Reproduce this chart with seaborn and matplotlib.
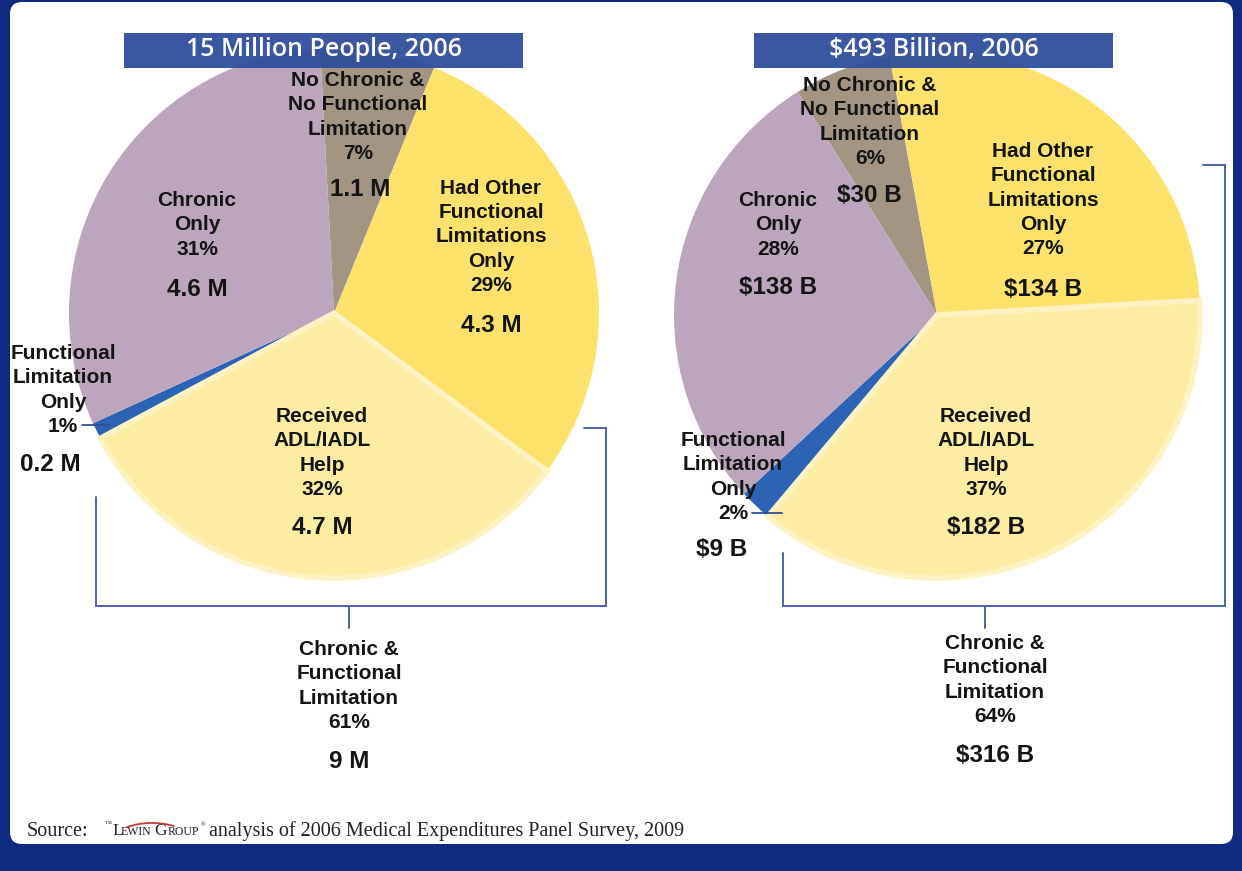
import matplotlib
matplotlib.use("Agg")
import matplotlib.pyplot as plt
import matplotlib.patches as mpatches
import seaborn as sns

# =====================================================
# Data
# =====================================================

segments = ["No Chronic & No Functional Limitation", "Had Other Functional Limitations Only",
            "Received ADL/IADL Help", "Functional Limitation Only", "Chronic Only"]

people_pct = [7, 29, 32, 1, 31]
people_val = ["1.1 M", "4.3 M", "4.7 M", "0.2 M", "4.6 M"]

spend_pct = [6, 27, 37, 2, 28]
spend_val = ["$30 B", "$134 B", "$182 B", "$9 B", "$138 B"]

titles = ["15 Million People, 2006", "$493 Billion, 2006"]
combined_pct = [61, 64]
combined_val = ["9 M", "$316 B"]

label_names = ["No Chronic &\nNo Functional\nLimitation", "Had Other\nFunctional\nLimitations\nOnly",
               "Received\nADL/IADL\nHelp", "Functional\nLimitation\nOnly", "Chronic\nOnly"]

slice_colors = ["#A29584", "#FCE26B", "#F6D957", "#2C63B4", "#BCA6BE"]
adl_light = "#FCEDA3"
adl_rim = "#FDF2C2"
navy = "#0F2A80"
title_blue = "#2F4E9C"
bracket_blue = "#4D62A8"

W, H = 1242, 871


def py(y):
    return H - y


# =====================================================
# Figure
# =====================================================

sns.set_theme(style="white")
plt.rcParams["font.family"] = ["Liberation Sans", "DejaVu Sans"]

fig = plt.figure(figsize=(W / 100, H / 100), dpi=100)
fig.patch.set_facecolor(navy)
ax = fig.add_axes([0, 0, 1, 1])
ax.set_facecolor("none")

# white panel inside the navy frame
panel = mpatches.FancyBboxPatch((16, py(838)), 1211, 830,
                                boxstyle="round,pad=6,rounding_size=12",
                                facecolor="white", edgecolor="none", zorder=0)
ax.add_patch(panel)

charts = [
    dict(pct=people_pct, val=people_val, center=(334, 313), radius=265, start=93, explode=0.05,
         text_pos=[(358, 117), (491, 237), (322, 453), (63, 390), (197, 225)],
         val_pos=[(360, 190), (491, 325), (322, 528), (50, 465), (197, 290)],
         title_box=(124, 33, 399, 35), leader=((82, 425), (110, 425)),
         bracket=dict(left=96, left_top=497, right=606, right_top=428, base=606, tick_x=349),
         combo_pos=(349, 686), combo_val_pos=(349, 762)),
    dict(pct=spend_pct, val=spend_val, center=(937, 315), radius=263, start=122, explode=0.05,
         text_pos=[(870, 122), (1043, 200), (986, 453), (733, 477), (778, 225)],
         val_pos=[(869, 195), (1043, 289), (986, 528), (722, 550), (778, 288)],
         title_box=(754, 33, 359, 35), leader=((752, 513), (782, 513)),
         bracket=dict(left=783, left_top=553, right=1225, right_top=165, base=606, tick_x=985),
         combo_pos=(995, 680), combo_val_pos=(995, 755)),
]

for i, ch in enumerate(charts):
    cx, cy = ch["center"]

    # base pie
    ax.pie(ch["pct"], colors=slice_colors, startangle=ch["start"], counterclock=False,
           center=(cx, py(cy)), radius=ch["radius"], frame=True,
           wedgeprops=dict(linewidth=0))

    # exploded ADL slice on top
    explode = [0, 0, ch["explode"], 0, 0]
    wedges, _ = ax.pie(ch["pct"], colors=slice_colors, startangle=ch["start"], counterclock=False,
                       center=(cx, py(cy)), radius=ch["radius"], explode=explode, frame=True,
                       wedgeprops=dict(linewidth=0))
    for j, w in enumerate(wedges):
        if j == 2:
            w.set_facecolor(adl_light)
            w.set_edgecolor(adl_rim)
            w.set_linewidth(4)
            w.set_zorder(3)
        else:
            w.set_visible(False)

    # slice labels
    for j in range(len(segments)):
        tx, ty = ch["text_pos"][j]
        ax.text(tx, py(ty), f"{label_names[j]}\n{ch['pct'][j]}%", ha="center", va="center",
                fontsize=15, fontweight="bold", color="#141414", linespacing=1.35, zorder=6)
        vx, vy = ch["val_pos"][j]
        ax.text(vx, py(vy), ch["val"][j], ha="center", va="center",
                fontsize=17.5, fontweight="bold", color="#141414", zorder=6)

    # leader line for the small slice
    (x0, y0), (x1, y1) = ch["leader"]
    ax.plot([x0, x1], [py(y0), py(y1)], color=title_blue, lw=1.3, zorder=6)

    # title box
    bx, by, bw, bh = ch["title_box"]
    ax.add_patch(mpatches.Rectangle((bx, py(by + bh)), bw, bh, facecolor=title_blue,
                                    edgecolor="none", alpha=0.95, zorder=7))
    ax.text(bx + bw / 2, py(by + bh / 2 - 1), titles[i], ha="center", va="center",
            fontsize=18, fontweight="semibold", color="white",
            family=["Open Sans", "DejaVu Sans"], zorder=8)

    # bracket for chronic & functional limitation
    b = ch["bracket"]
    ax.plot([b["left"], b["left"], b["right"], b["right"], b["right"] - 22],
            [py(b["left_top"]), py(b["base"]), py(b["base"]), py(b["right_top"]), py(b["right_top"])],
            color=bracket_blue, lw=1.4, zorder=5, solid_joinstyle="miter")
    ax.plot([b["tick_x"], b["tick_x"]], [py(b["base"]), py(b["base"] + 22)],
            color=bracket_blue, lw=1.4, zorder=5)

    px, pyy = ch["combo_pos"]
    ax.text(px, py(pyy), f"Chronic &\nFunctional\nLimitation\n{combined_pct[i]}%",
            ha="center", va="center", fontsize=15, fontweight="bold", color="#141414",
            linespacing=1.35, zorder=6)
    vx, vy = ch["combo_val_pos"]
    ax.text(vx, py(vy), combined_val[i], ha="center", va="center",
            fontsize=17.5, fontweight="bold", color="#141414", zorder=6)

# =====================================================
# Source line
# =====================================================

serif = ["Liberation Serif", "DejaVu Serif"]
ink = "#222222"
ax.text(27, py(831), "Source:", ha="left", va="center", fontsize=14.5, family=serif, color=ink)
ax.text(105, py(825), "™", ha="left", va="center", fontsize=5, family=serif, color=ink)
ax.text(112, py(831), "L", ha="left", va="center", fontsize=12.5, family=serif, color=ink)
ax.text(121, py(832), "EWIN", ha="left", va="center", fontsize=8.5, family=serif, color=ink)
ax.text(154, py(831), "G", ha="left", va="center", fontsize=12.5, family=serif, color=ink)
ax.text(168, py(832), "ROUP", ha="left", va="center", fontsize=8.5, family=serif, color=ink)
ax.text(201, py(825), "®", ha="left", va="center", fontsize=4.5, family=serif, color=ink)
ax.add_patch(mpatches.Arc((152, py(842)), 80, 38, theta1=35, theta2=150,
                          color="#C8393B", lw=1.3, zorder=6))
ax.text(209, py(831), "analysis of 2006 Medical Expenditures Panel Survey, 2009",
        ha="left", va="center", fontsize=14.5, family=serif, color=ink)

ax.set_xlim(0, W)
ax.set_ylim(0, H)
ax.set_aspect("equal")
ax.axis("off")

fig.savefig("out.png", dpi=100, facecolor=fig.get_facecolor())
plt.close(fig)
